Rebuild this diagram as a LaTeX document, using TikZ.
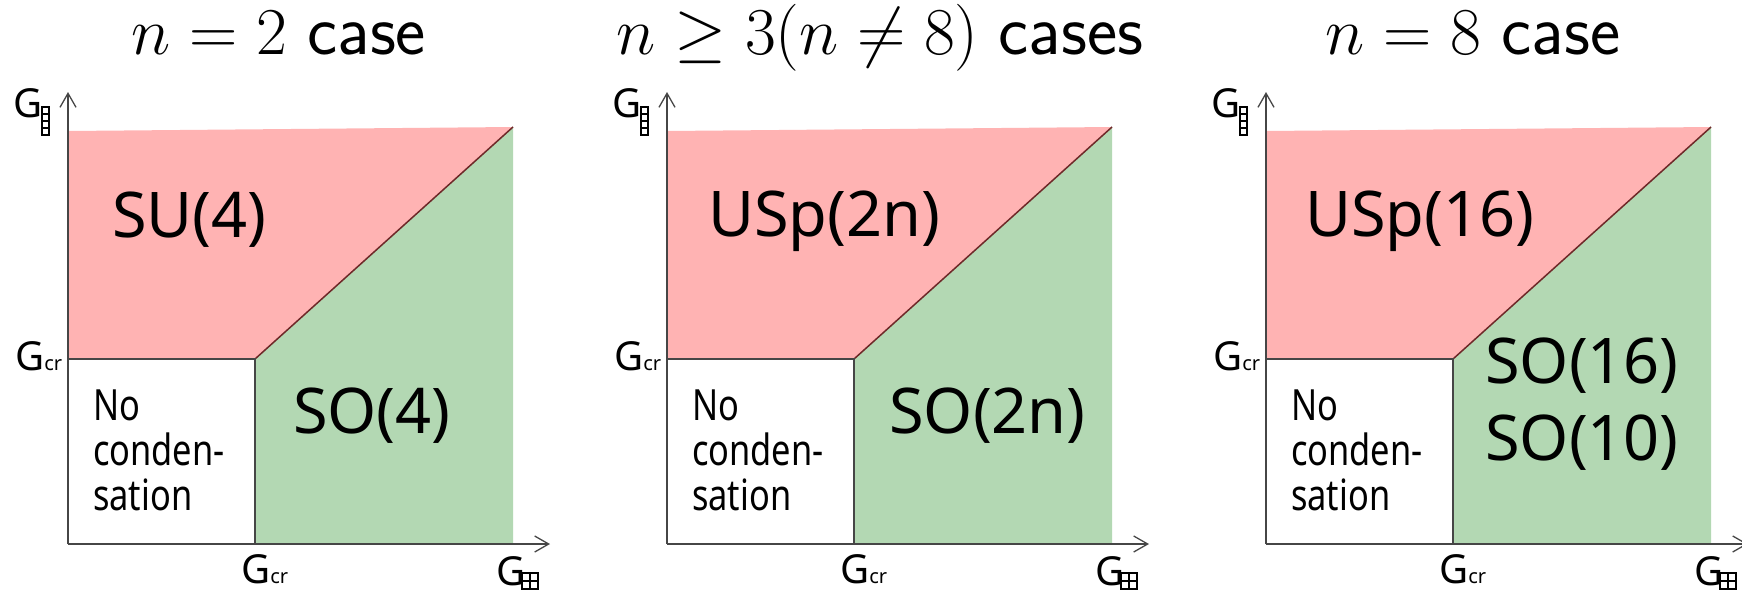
\RequirePackage{fix-cm}
\documentclass[tikz,border=0pt]{standalone}
\usepackage{fontspec}
\usetikzlibrary{arrows.meta}
\newfontfamily\lblfont{Noto Sans}
\newfontfamily\condfont[FakeStretch=0.8]{Noto Sans}
\definecolor{pinkr}{RGB}{255,179,179}
\definecolor{greenr}{RGB}{179,216,179}
\definecolor{diagc}{RGB}{110,40,40}
\definecolor{axisc}{RGB}{70,70,70}
\tikzset{
  axisline/.style={draw=axisc, line width=1.3pt, -{Straight Barb[length=14pt,width=16pt,line width=1.3pt]}},
  bound/.style={draw=axisc, line width=2pt},
  diagline/.style={draw=diagc, line width=1.5pt},
  ttl/.style={anchor=base, inner sep=0pt, font=\fontsize{67}{72}\selectfont},
  big/.style={anchor=base west, inner sep=0pt, font=\lblfont\fontsize{63}{77}\selectfont, align=left},
  cond/.style={anchor=base west, inner sep=0pt, font=\condfont\fontsize{43}{45}\selectfont, align=left},
  axlab/.style={anchor=base west, inner sep=0pt, font=\lblfont\fontsize{40}{40}\selectfont},
  yd/.style={draw=black, line width=1.1pt},
}
\newcommand\subcr{{\fontsize{20}{20}\selectfont cr}}
\newcommand\ttltext[1]{{\fontsize{72}{72}\selectfont\sffamily #1}}
\begin{document}
\begin{tikzpicture}[x=1pt,y=-1pt]
\useasboundingbox (0,0) rectangle (1742,595);
\foreach \i/\dx in {1/0,2/599,3/1198}{
\begin{scope}[xshift=\dx pt]
  \coordinate (O\i) at (68,544);
  \coordinate (Y\i) at (68,92);
  \coordinate (X\i) at (550,544);
  \coordinate (C\i) at (255,359);
  \coordinate (Cx\i) at (255,544);
  \coordinate (Cy\i) at (68,359);
  \coordinate (T\i) at (513,127);
  \coordinate (TL\i) at (68,131);
  \coordinate (BR\i) at (513,544);
  \fill[pinkr] (TL\i) -- (T\i) -- (C\i) -- (Cy\i) -- cycle;
  \fill[greenr] (C\i) -- (T\i) -- (BR\i) -- (Cx\i) -- cycle;
  \draw[diagline] (C\i) -- (T\i);
  \draw[bound] (Cy\i) -- (C\i) -- (Cx\i);
  \draw[axisline] (O\i) -- (Y\i);
  \draw[axisline] (O\i) -- (X\i);
  % axis labels
  \node[axlab] (gy\i) at (13,117) {G};
  \foreach \k in {0,1,2,3}{\draw[yd] (42,107+7*\k) rectangle (49,114+7*\k);}
  \node[axlab] (gcry\i) at (15,370) {G\subcr};
  \node[axlab] (gcrx\i) at (241,583) {G\subcr};
  \node[axlab] (gx\i) at (496,585) {G};
  \draw[yd] (522,573) rectangle (538,589);
  \draw[yd] (530,573) -- (530,589);
  \draw[yd] (522,581) -- (538,581);
  \node[cond] (nc\i) at (93,510) {No\\conden-\\sation};
\end{scope}
}
\node[ttl] (t1) at (279,54) {$n=2$ \ttltext{case}};
\node[ttl] (t2) at (880,54) {$n\geq3(n\neq8)$ \ttltext{cases}};
\node[ttl] (t3) at (1473,54) {$n=8$ \ttltext{case}};
\node[big] (su) at (112,237) {SU(4)};
\node[big] (so4) at (293,433) {SO(4)};
\node[big] (usp2n) at (708,236) {USp(2n)};
\node[big] (so2n) at (889,433) {SO(2n)};
\node[big] (usp16) at (1305,236) {USp(16)};
\node[big] (so16) at (1485,460) {SO(16)\\SO(10)};
\end{tikzpicture}
\end{document}
